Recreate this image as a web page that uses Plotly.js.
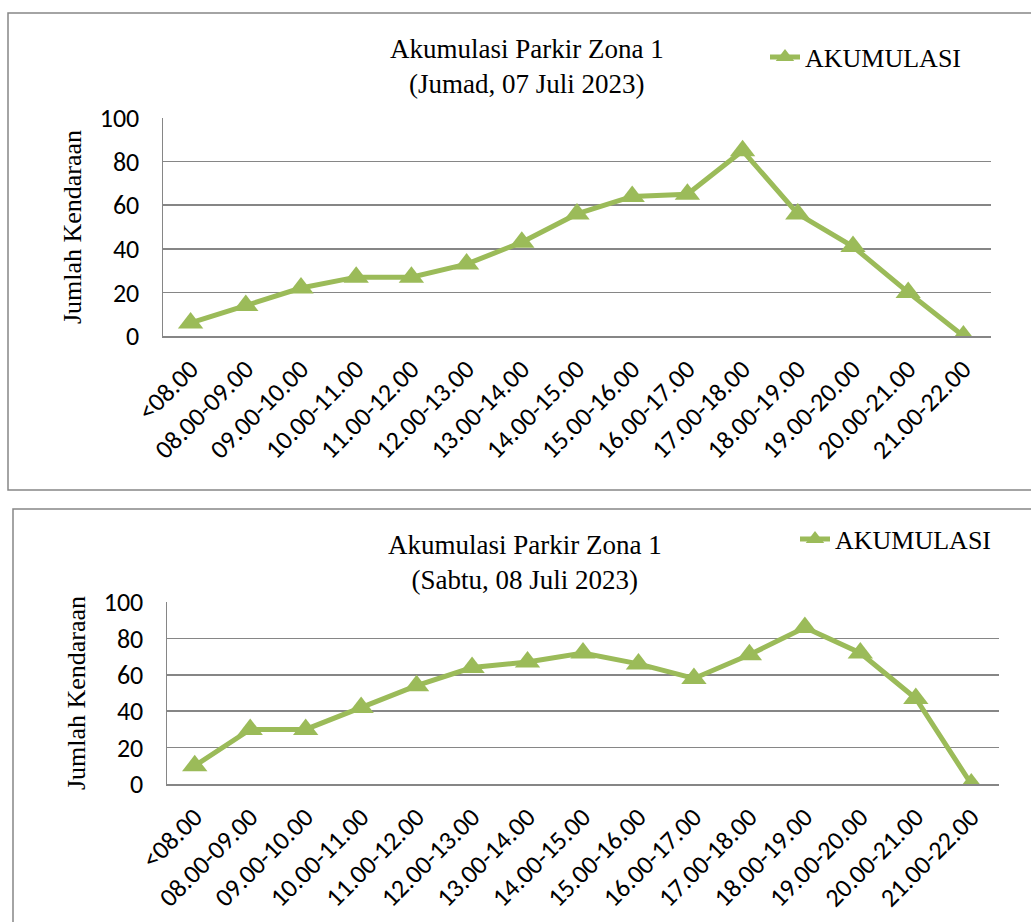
<!DOCTYPE html>
<html>
<head>
<meta charset="utf-8">
<script src="https://cdn.plot.ly/plotly-3.0.1.min.js"></script>
<style>html,body{margin:0;padding:0;background:#fff;}#chart{width:1031px;height:922px;}</style>
</head>
<body>
<div id="chart"></div>
<script>
const categories = ['<08.00','08.00-09.00','09.00-10.00','10.00-11.00','11.00-12.00','12.00-13.00','13.00-14.00','14.00-15.00','15.00-16.00','16.00-17.00','17.00-18.00','18.00-19.00','19.00-20.00','20.00-21.00','21.00-22.00'];
const jumadValues = [6,14,22,27,27,33,43,56,64,65,85,56,41,20,0];
const sabtuValues = [10,30,30,42,54,64,67,72,66,58,71,86,72,47,0];
const seriesName = 'AKUMULASI';
const yTitle = 'Jumlah Kendaraan';
const title1 = 'Akumulasi Parkir Zona 1<br>(Jumad, 07 Juli 2023)';
const title2 = 'Akumulasi Parkir Zona 1<br>(Sabtu, 08 Juli 2023)';

const W = 1031, H = 922;
const px = v => v / W;
const py = v => 1 - v / H;

const green = '#9BBB59';
const grid = '#868686';
const serif = 'Liberation Serif, Times New Roman, serif';
const sans = 'Carlito, Liberation Sans, Arial, sans-serif';

const traceStyle = {
  type: 'scatter', mode: 'lines+markers', name: seriesName,
  line: {color: green, width: 5},
  marker: {symbol: 'triangle-up', size: 22, color: green, line: {width: 0}}
};

const data = [
  Object.assign({}, traceStyle, {x: categories, y: jumadValues, xaxis: 'x', yaxis: 'y', legend: 'legend'}),
  Object.assign({}, traceStyle, {x: categories, y: sabtuValues, xaxis: 'x2', yaxis: 'y2', legend: 'legend2'})
];

function xAxis(domain, anchor) {
  return {
    domain: domain, anchor: anchor, type: 'category',
    range: [-0.5, 14.5],
    showgrid: false, zeroline: false,
    showline: true, linecolor: grid, linewidth: 1.5,
    ticks: '', tickangle: -45,
    tickfont: {family: sans, size: 26, color: '#000'},
    ticklabelstandoff: 6
  };
}
function yAxis(domain, anchor) {
  return {
    domain: domain, anchor: anchor,
    range: [0, 100], dtick: 20, tick0: 0,
    showgrid: true, gridcolor: grid, gridwidth: 1.5,
    zeroline: false,
    showline: true, linecolor: grid, linewidth: 1.5,
    ticks: '',
    tickfont: {family: sans, size: 26, color: '#000'},
    ticklabelstandoff: 17,
    title: {text: yTitle, font: {family: serif, size: 26, color: '#000'}, standoff: 10}
  };
}

const legendBase = {
  orientation: 'v', xanchor: 'left', yanchor: 'middle',
  font: {family: serif, size: 26, color: '#000'},
  bgcolor: 'rgba(0,0,0,0)', borderwidth: 0, itemwidth: 30
};

const layout = {
  width: W, height: H,
  margin: {l: 0, r: 0, t: 0, b: 0},
  paper_bgcolor: '#fff', plot_bgcolor: '#fff',
  showlegend: true,
  xaxis: xAxis([px(163), px(991)], 'y'),
  yaxis: yAxis([py(336), py(118)], 'x'),
  xaxis2: xAxis([px(167), px(999)], 'y2'),
  yaxis2: yAxis([py(784), py(602)], 'x2'),
  legend: Object.assign({}, legendBase, {x: px(765), y: py(57)}),
  legend2: Object.assign({}, legendBase, {x: px(795), y: py(539)}),
  annotations: [
    {text: title1, x: px(527), y: py(66), xref: 'paper', yref: 'paper', xanchor: 'center', yanchor: 'middle', showarrow: false, font: {family: serif, size: 27, color: '#000'}},
    {text: title2, x: px(525), y: py(562), xref: 'paper', yref: 'paper', xanchor: 'center', yanchor: 'middle', showarrow: false, font: {family: serif, size: 27, color: '#000'}}
  ],
  shapes: [
    {type: 'rect', xref: 'paper', yref: 'paper', x0: px(8), x1: px(1040), y0: py(490), y1: py(13), line: {color: grid, width: 1.5}},
    {type: 'rect', xref: 'paper', yref: 'paper', x0: px(13), x1: px(1040), y0: py(935), y1: py(509), line: {color: grid, width: 1.5}}
  ]
};

Plotly.newPlot('chart', data, layout, {displayModeBar: false, staticPlot: true});
</script>
</body>
</html>
